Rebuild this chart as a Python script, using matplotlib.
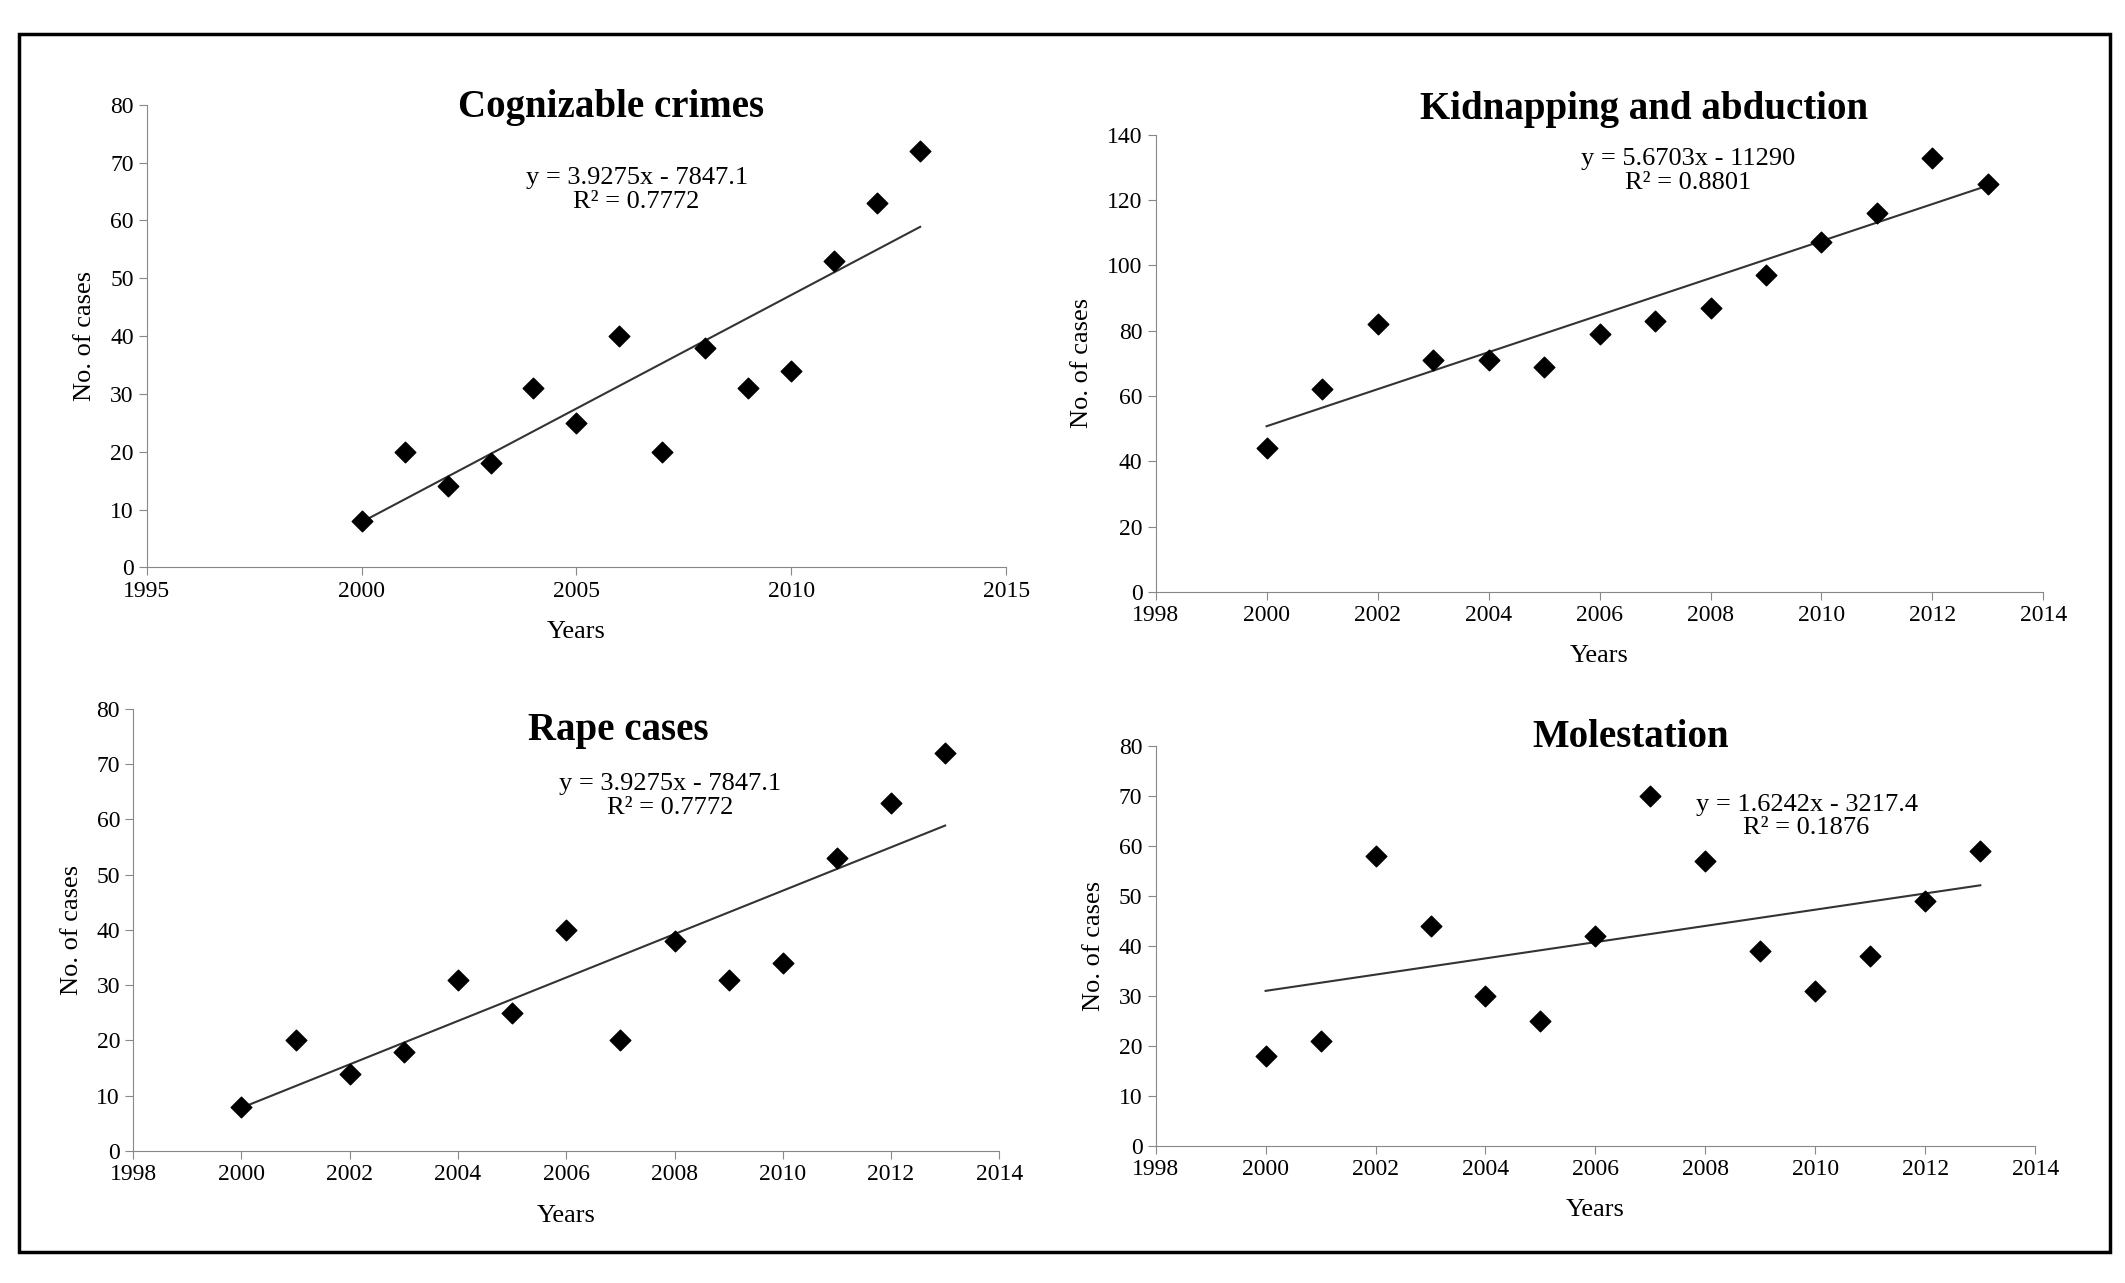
import numpy as np
import matplotlib
matplotlib.use("Agg")
import matplotlib.pyplot as plt
from matplotlib.patches import Rectangle

plt.rcParams['font.family'] = ['Liberation Serif', 'DejaVu Serif']

years = list(range(2000, 2014))
cognizable = [8, 20, 14, 18, 31, 25, 40, 20, 38, 31, 34, 53, 63, 72]
kidnapping = [44, 62, 82, 71, 71, 69, 79, 83, 87, 97, 107, 116, 133, 125]
rape = [8, 20, 14, 18, 31, 25, 40, 20, 38, 31, 34, 53, 63, 72]
molestation = [18, 21, 58, 44, 30, 25, 42, 70, 57, 39, 31, 38, 49, 59]

titles = ["Cognizable crimes", "Kidnapping and abduction", "Rape cases", "Molestation"]
equations = ["y = 3.9275x - 7847.1\nR² = 0.7772", "y = 5.6703x - 11290\nR² = 0.8801",
             "y = 3.9275x - 7847.1\nR² = 0.7772", "y = 1.6242x - 3217.4\nR² = 0.1876"]
series = [cognizable, kidnapping, rape, molestation]

W, H = 1563, 943
boxes = [(108, 740, 77, 417), (850, 1503, 99, 435), (98, 735, 521, 846), (850, 1497, 548, 842)]
xlims = [(1995, 2015, 5), (1998, 2014, 2), (1998, 2014, 2), (1998, 2014, 2)]
ylims = [(0, 80, 10), (0, 140, 20), (0, 80, 10), (0, 80, 10)]
titlepos = [(0.54, 0.995), (0.55, 1.055), (0.56, 0.95), (0.54, 1.02)]
eqpos = [(0.57, 0.865), (0.60, 0.97), (0.62, 0.855), (0.74, 0.88)]

fig = plt.figure(figsize=(21.25, 12.83), dpi=100)
fig.patches.append(Rectangle((14 / W, 1 - 920 / H), (1552 - 14) / W, (920 - 25) / H,
                             transform=fig.transFigure, fill=False, edgecolor='black', lw=2.5))

x = np.array(years)
for i in range(4):
    l, r, t, b = boxes[i]
    ax = fig.add_axes([l / W, 1 - b / H, (r - l) / W, (b - t) / H])
    y = np.array(series[i])
    ax.scatter(x, y, marker='D', s=110, color='black', zorder=3)
    m, c = np.polyfit(x, y, 1)
    ax.plot([x[0], x[-1]], [m * x[0] + c, m * x[-1] + c], color='#333333', lw=1.5)
    x0, x1, xs = xlims[i]
    y0, y1, ys = ylims[i]
    ax.set_xlim(x0, x1)
    ax.set_ylim(y0, y1)
    ax.set_xticks(np.arange(x0, x1 + 1, xs))
    ax.set_yticks(np.arange(y0, y1 + 1, ys))
    for s in ['top', 'right']:
        ax.spines[s].set_visible(False)
    for s in ['left', 'bottom']:
        ax.spines[s].set_color('#888888')
    ax.tick_params(labelsize=17, color='#888888', length=6)
    ax.set_xlabel("Years", fontsize=19, labelpad=14)
    ax.set_ylabel("No. of cases", fontsize=19, labelpad=10)
    ax.text(*titlepos[i], titles[i], transform=ax.transAxes, ha='center', va='center',
            fontsize=28, fontweight='bold')
    ax.text(*eqpos[i], equations[i], transform=ax.transAxes, ha='center', va='top',
            fontsize=19, linespacing=1.1)

fig.savefig("out.png", dpi=100)
